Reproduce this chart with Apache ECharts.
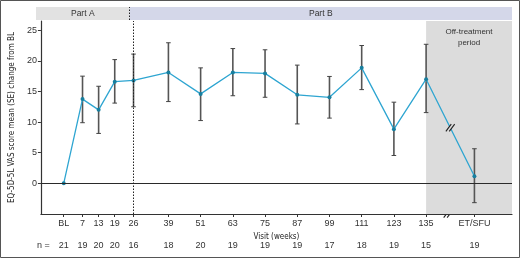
<!DOCTYPE html>
<html>
<head>
<meta charset="utf-8">
<script src="https://cdn.jsdelivr.net/npm/echarts@6/dist/echarts.min.js"></script>
<style>
  html, body { margin: 0; padding: 0; background: #fff; }
  #chart { width: 520px; height: 258px; }
</style>
</head>
<body>
<div id="chart"></div>
<script>
// visits in weeks (ET/SFU placed after a break)
const weeks = [0, 7, 13, 19, 26, 39, 51, 63, 75, 87, 99, 111, 123, 135, 153];
const tickLabels = ['BL', '7', '13', '19', '26', '39', '51', '63', '75', '87', '99', '111', '123', '135', 'ET/SFU'];
const nCounts = [21, 19, 20, 20, 16, 18, 20, 19, 19, 19, 17, 18, 19, 15, 19];
const meanChange = [0, 13.75, 12.0, 16.6, 16.8, 18.1, 14.6, 18.1, 17.95, 14.45, 14.05, 18.85, 8.85, 17.0, 1.15];
const seLow = [null, 9.9, 8.15, 13.1, 12.5, 13.35, 10.25, 14.3, 14.05, 9.7, 10.65, 15.3, 4.55, 11.55, -3.15];
const seHigh = [null, 17.5, 15.85, 20.2, 21.1, 22.95, 18.85, 22.0, 21.8, 19.3, 17.45, 22.5, 13.25, 22.7, 5.65];
const yTicks = [0, 5, 10, 15, 20, 25];
const phaseNames = ['Part A', 'Part B'];
const phaseEnd = 26;
const offTreatmentStart = 135;
const breakWeek = 144;

const xMin = -8.5, xMax = 167;
const yMin = -5, yMax = 26.5;
const phaseColors = ['#e2e2e2', '#d4d7e9'];
const numFont = "'Liberation Sans', Arial, sans-serif";
const narrowFont = "'Liberation Sans Narrow', 'DejaVu Sans Condensed', sans-serif";

const chart = echarts.init(document.getElementById('chart'));

const errData = [];
weeks.forEach((w, i) => {
  if (seLow[i] != null) errData.push([w, seLow[i], seHigh[i]]);
});
const last = weeks.length - 1;
// break on the line, midway between 135 and ET/SFU
const breakData = [[breakWeek, (meanChange[last - 1] + meanChange[last]) / 2]];

function slashes(c, fill) {
  const h = 4.5, o = 1.7, ux = 0.6, uy = -0.8;
  const a = [c[0] - o - ux * h, c[1] - uy * h], b = [c[0] - o + ux * h, c[1] + uy * h];
  const d = [c[0] + o - ux * h, c[1] - uy * h], e = [c[0] + o + ux * h, c[1] + uy * h];
  return [
    { type: 'polygon', shape: { points: [a, b, e, d] }, style: { fill: fill } },
    { type: 'line', shape: { x1: a[0], y1: a[1], x2: b[0], y2: b[1] }, style: { stroke: '#222', lineWidth: 1.1 } },
    { type: 'line', shape: { x1: d[0], y1: d[1], x2: e[0], y2: e[1] }, style: { stroke: '#222', lineWidth: 1.1 } }
  ];
}

const option = {
  animation: false,
  grid: [
    { left: 36, right: 8, top: 21, bottom: 44 },
    { left: 36, right: 8, top: 7, height: 13 }
  ],
  xAxis: [
    {
      type: 'value', gridIndex: 0, min: xMin, max: xMax,
      axisLine: { onZero: false, lineStyle: { color: '#333', width: 1.2 } },
      axisTick: { show: true, customValues: weeks, length: 3, lineStyle: { color: '#333' } },
      axisLabel: {
        customValues: weeks, margin: 5, color: '#333', fontSize: 9, fontFamily: numFont,
        formatter: v => tickLabels[weeks.indexOf(v)]
      },
      splitLine: { show: false },
      name: 'Visit (weeks)', nameLocation: 'middle', nameGap: 15,
      nameTextStyle: { color: '#222', fontSize: 8, fontFamily: narrowFont }
    },
    {
      type: 'value', gridIndex: 0, position: 'bottom', min: xMin, max: xMax,
      axisLine: { show: false }, axisTick: { show: false }, splitLine: { show: false },
      axisLabel: {
        customValues: weeks, margin: 27, color: '#333', fontSize: 9, fontFamily: numFont,
        formatter: v => String(nCounts[weeks.indexOf(v)])
      }
    },
    { type: 'value', gridIndex: 1, min: xMin, max: xMax, show: false }
  ],
  yAxis: [
    {
      type: 'value', gridIndex: 0, min: yMin, max: yMax, interval: 5,
      axisLine: { show: true, onZero: false, lineStyle: { color: '#333', width: 1.2 } },
      axisTick: { show: true, customValues: yTicks, length: 3, lineStyle: { color: '#333' } },
      axisLabel: { customValues: yTicks, margin: 4, color: '#333', fontSize: 9, fontFamily: numFont },
      splitLine: { show: false },
      name: 'EQ-5D-5L VAS score mean (SE) change from BL', nameLocation: 'middle', nameGap: 16,
      nameTextStyle: { color: '#222', fontSize: 8, fontFamily: narrowFont }
    },
    { type: 'value', gridIndex: 1, min: 0, max: 1, show: false }
  ],
  series: [
    {
      // background areas and reference lines
      type: 'line', xAxisIndex: 0, yAxisIndex: 0, data: [], z: 1, silent: true,
      markArea: {
        silent: true,
        itemStyle: { color: '#dcdcdc' },
        label: {
          show: true, position: 'insideTop', distance: 5, color: '#333',
          fontSize: 8, fontFamily: numFont, lineHeight: 11
        },
        data: [[{ xAxis: offTreatmentStart, name: 'Off-treatment\nperiod' }, { xAxis: xMax }]]
      },
      markLine: {
        silent: true, symbol: 'none', label: { show: false },
        data: [
          { yAxis: 0, lineStyle: { color: '#2a2a2a', width: 1.1, type: 'solid' } },
          { xAxis: phaseEnd, lineStyle: { color: '#222', width: 1, type: [1.5, 1.5] } }
        ]
      }
    },
    {
      type: 'custom', xAxisIndex: 2, yAxisIndex: 1, z: 1, silent: true,
      data: phaseNames.map((n, i) => [i === 0 ? xMin : phaseEnd, i === 0 ? phaseEnd : xMax]),
      renderItem: (params, api) => {
        const s = api.coord([api.value(0), 0]);
        const e = api.coord([api.value(1), 1]);
        return {
          type: 'group', children: [
            { type: 'rect', shape: { x: s[0], y: e[1], width: e[0] - s[0], height: s[1] - e[1] },
              style: { fill: phaseColors[params.dataIndex] } },
            { type: 'text', style: {
                text: phaseNames[params.dataIndex], x: (s[0] + e[0]) / 2, y: (s[1] + e[1]) / 2,
                align: 'center', verticalAlign: 'middle', fill: '#333', fontSize: 8.5, fontFamily: numFont } }
          ]
        };
      },
      markLine: {
        silent: true, symbol: 'none', label: { show: false },
        data: [{ xAxis: phaseEnd, lineStyle: { color: '#222', width: 1, type: [1.5, 1.5] } }]
      }
    },
    {
      type: 'custom', xAxisIndex: 0, yAxisIndex: 0, z: 2, silent: true,
      data: errData,
      renderItem: (params, api) => {
        const x = api.value(0);
        const lo = api.coord([x, api.value(1)]);
        const hi = api.coord([x, api.value(2)]);
        const cap = 2.3;
        const st = { stroke: '#444', lineWidth: 1 };
        return {
          type: 'group', children: [
            { type: 'line', shape: { x1: lo[0], y1: lo[1], x2: hi[0], y2: hi[1] }, style: { stroke: '#555', lineWidth: 1.6 } },
            { type: 'line', shape: { x1: lo[0] - cap, y1: lo[1], x2: lo[0] + cap, y2: lo[1] }, style: st },
            { type: 'line', shape: { x1: hi[0] - cap, y1: hi[1], x2: hi[0] + cap, y2: hi[1] }, style: st }
          ]
        };
      }
    },
    {
      type: 'line', xAxisIndex: 0, yAxisIndex: 0, z: 3,
      data: weeks.map((w, i) => [w, meanChange[i]]),
      symbol: 'circle', symbolSize: 4, showSymbol: true,
      lineStyle: { color: '#2ea5d1', width: 1.3 },
      itemStyle: { color: '#177f9f' }
    },
    {
      type: 'custom', xAxisIndex: 0, yAxisIndex: 0, z: 20, silent: true, clip: false,
      data: breakData,
      renderItem: (params, api) => ({
        type: 'group', children: slashes(api.coord([api.value(0), api.value(1)]), '#dcdcdc')
      })
    }
  ]
};

chart.setOption(option);

// axis break and frame, placed from the axis scale
const axisBreak = chart.convertToPixel({ xAxisIndex: 0, yAxisIndex: 0 }, [breakWeek - 0.8, yMin]);
chart.setOption({
  graphic: [
    { type: 'text', left: 37, top: 241, style: { text: 'n =', fill: '#333', fontSize: 9, fontFamily: numFont } },
    { type: 'group', z: 100, children: slashes(axisBreak, '#ffffff') },
    { type: 'rect', z: 100, shape: { x: 0.5, y: 0.5, width: 519, height: 257 },
      style: { fill: 'none', stroke: '#555', lineWidth: 1 } }
  ]
});
</script>
</body>
</html>
